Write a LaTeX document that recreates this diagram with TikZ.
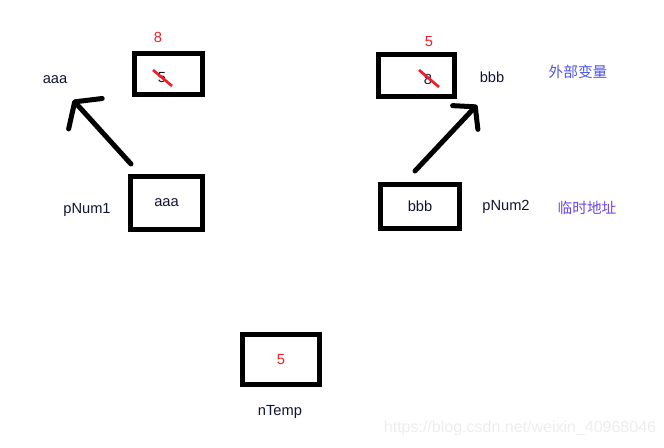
\documentclass[tikz,border=0pt]{standalone}
\usepackage{fontspec}
\setmainfont{Liberation Sans}
\newfontfamily\cjk{Noto Sans CJK SC}
\usetikzlibrary{arrows.meta}
\definecolor{ink}{RGB}{15,20,50}
\definecolor{redpen}{RGB}{240,30,40}
\definecolor{notea}{RGB}{75,85,225}
\definecolor{noteb}{RGB}{110,70,230}
\tikzset{
  cell/.style={rectangle, draw, line width=3.75pt, minimum width=51pt, minimum height=30.75pt, inner sep=0pt, text=ink},
  lbl/.style={inner sep=0pt, text=ink},
  num/.style={inner sep=0pt, text=redpen},
  strike/.style={redpen, line width=2pt},
  ptr/.style={line width=3.75pt, line cap=round, -{Straight Barb[length=12pt, width=34pt, round]}},
}
\begin{document}
\begin{tikzpicture}[x=0.75pt, y=-0.75pt, font=\fontsize{11}{13}\selectfont]
        \useasboundingbox (0,0) rectangle (664,448);

        % Left side (first variable and pNum1)
        \node (va) [cell] at (168,74) {};
        \node (olda) [lbl] at (162,78) {5};
        \node (newa) [num] at (158,37) {8};
        \node (aaa) [lbl] at (55,80) {aaa};
        \node (p1) [cell, minimum width=54pt, minimum height=39.75pt] at (166.5,203) {aaa};
        \node (p1name) [lbl] at (87,210) {pNum1};

        % Right side (second variable and pNum2)
        \node (vb) [cell, minimum width=57pt, minimum height=31.5pt] at (416.5,75.5) {};
        \node (oldb) [lbl] at (428,79) {8};
        \node (newb) [num] at (429,42) {5};
        \node (bbb) [lbl] at (492,77) {bbb};
        \node (p2) [cell, minimum width=59.25pt, minimum height=33pt] at (420,206.5) {bbb};
        \node (p2name) [lbl] at (506,207) {pNum2};
        \node (outer) [text=notea] at (578,72) {\cjk 外部变量};
        \node (temp) [text=noteb] at (587,208) {\cjk 临时地址};

        % Temporary
        \node (nt) [cell, minimum width=57.75pt, minimum height=37.5pt, text=redpen] at (281,359.5) {5};
        \node (ntname) [lbl] at (280,412) {nTemp};

        \node (mark) [inner sep=0pt, text=black!7, font=\fontsize{12}{14}\selectfont] at (520,428) {https://blog.csdn.net/weixin\_40968046};

        % Strike-outs
        \draw[strike] ([shift={(-9,-8)}]olda.center) -- ([shift={(10,8)}]olda.center);
        \draw[strike] ([shift={(-9,-9)}]oldb.center) -- ([shift={(11,8)}]oldb.center);

        % Pointers
        \coordinate (tipa) at (73,100);
        \coordinate (tipb) at (477,105);
        \draw[ptr] ([shift={(3,-10)}]p1.north west) -- (tipa);
        \draw[ptr, -{Straight Barb[length=11pt, width=26pt, round]}] ([shift={(37,-11)}]p2.north west) -- (tipb);

\end{tikzpicture}
\end{document}
